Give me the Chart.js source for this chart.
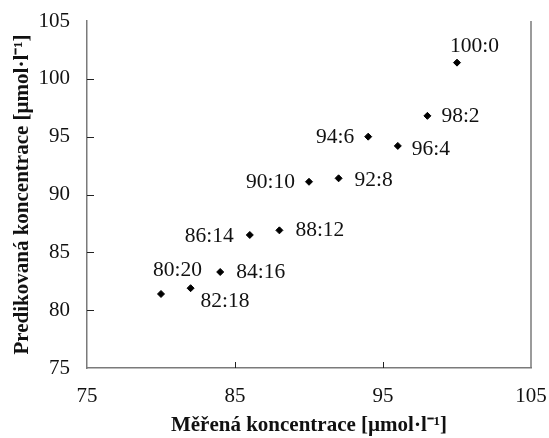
<!DOCTYPE html>
<html><head><meta charset="utf-8">
<script src="https://cdn.jsdelivr.net/npm/chart.js@4.4.1/dist/chart.umd.min.js"></script>
<style>html,body{margin:0;padding:0;background:#fff}#wrap{width:549px;height:438px}</style>
</head><body><div id="wrap"><canvas id="c" width="549" height="438"></canvas></div>
<script>
// ---- data ----
const ratioLabels = ['80:20','82:18','84:16','86:14','88:12','90:10','92:8','94:6','96:4','98:2','100:0'];
const measured    = [80, 82, 84, 86, 88, 90, 92, 94, 96, 98, 100];
const predicted   = [81.4, 81.9, 83.3, 86.5, 86.9, 91.1, 91.4, 95.0, 94.2, 96.8, 101.4];
const xTickValues = [75, 85, 95, 105];
const yTickValues = [75, 80, 85, 90, 95, 100, 105];
const xTitle = 'Měřená koncentrace [µmol·l⁻¹]';
const yTitle = 'Predikovaná koncentrace [µmol·l⁻¹]';

// ---- label placement (style, not data) ----
const labelPlacement = [
  {align:'left',  dx:-8,  dy:-24},
  {align:'left',  dx:10,  dy:13},
  {align:'left',  dx:16,  dy:0},
  {align:'right', dx:-16, dy:1},
  {align:'left',  dx:16,  dy:0},
  {align:'right', dx:-14, dy:1},
  {align:'left',  dx:16,  dy:2},
  {align:'right', dx:-14, dy:1},
  {align:'left',  dx:14,  dy:3},
  {align:'left',  dx:14,  dy:1},
  {align:'left',  dx:-7,  dy:-16}
];

const FONT = "'Liberation Serif', 'Times New Roman', serif";
const AXIS_GRAY = '#7a7a7a';

const pointLabelPlugin = {
  id: 'pointLabels',
  afterDatasetsDraw(chart) {
    const ctx = chart.ctx;
    const meta = chart.getDatasetMeta(0);
    ctx.save();
    ctx.font = '21.5px ' + FONT;
    ctx.fillStyle = '#111';
    ctx.textBaseline = 'middle';
    meta.data.forEach((el, i) => {
      const p = labelPlacement[i];
      ctx.textAlign = p.align;
      ctx.fillText(ratioLabels[i], el.x + p.dx, el.y + p.dy);
    });
    ctx.restore();
  }
};

const frameTicksPlugin = {
  id: 'frameTicks',
  afterDraw(chart) {
    const {ctx, chartArea: a, scales: {x, y}} = chart;
    ctx.save();
    ctx.strokeStyle = AXIS_GRAY;
    ctx.lineWidth = 1.5;
    ctx.beginPath();
    ctx.moveTo(a.right, a.top);
    ctx.lineTo(a.right, a.bottom);
    ctx.stroke();
    ctx.strokeStyle = '#222';
    ctx.lineWidth = 1;
    ctx.beginPath();
    x.ticks.forEach(t => {
      if (t.value <= x.min || t.value >= x.max) return;
      const px = Math.round(x.getPixelForValue(t.value)) + 0.5;
      ctx.moveTo(px, a.bottom);
      ctx.lineTo(px, a.bottom - 6);
    });
    y.ticks.forEach(t => {
      if (t.value <= y.min || t.value >= y.max) return;
      const py = Math.round(y.getPixelForValue(t.value)) + 0.5;
      ctx.moveTo(a.left, py);
      ctx.lineTo(a.left + 7, py);
    });
    ctx.stroke();
    ctx.restore();
  }
};

new Chart(document.getElementById('c'), {
  type: 'scatter',
  data: {
    datasets: [{
      data: measured.map((v, i) => ({x: v, y: predicted[i]})),
      pointStyle: 'rectRot',
      pointRadius: 3.5,
      pointBorderWidth: 1,
      backgroundColor: '#000',
      borderColor: '#000'
    }]
  },
  options: {
    responsive: false,
    devicePixelRatio: 1,
    animation: false,
    layout: {padding: {top: 21, right: 18, bottom: 0, left: 0}},
    plugins: {legend: {display: false}, tooltip: {enabled: false}},
    scales: {
      x: {
        type: 'linear', min: 75, max: 105,
        afterBuildTicks: s => { s.ticks = xTickValues.map(v => ({value: v})); },
        afterFit: s => { s.height = 70; s.paddingLeft = 0; s.paddingRight = 0; },
        grid: {display: false, drawTicks: false},
        border: {display: true, color: AXIS_GRAY, width: 1.5},
        ticks: {color: '#111', padding: 16, maxRotation: 0, font: {family: FONT, size: 21}},
        title: {display: true, text: xTitle, color: '#111', padding: {top: 0, bottom: 0},
                font: {family: FONT, size: 21, weight: 'bold'}}
      },
      y: {
        type: 'linear', min: 75, max: 105,
        afterBuildTicks: s => { s.ticks = yTickValues.map(v => ({value: v})); },
        afterFit: s => { s.width = 87; s.paddingTop = 0; s.paddingBottom = 0; },
        grid: {display: false, drawTicks: false},
        border: {display: true, color: AXIS_GRAY, width: 1.5},
        ticks: {color: '#111', padding: 17, font: {family: FONT, size: 21}},
        title: {display: true, text: yTitle, color: '#111', padding: {top: 10, bottom: 0},
                font: {family: FONT, size: 21, weight: 'bold'}}
      }
    }
  },
  plugins: [pointLabelPlugin, frameTicksPlugin]
});
</script>
</body></html>
